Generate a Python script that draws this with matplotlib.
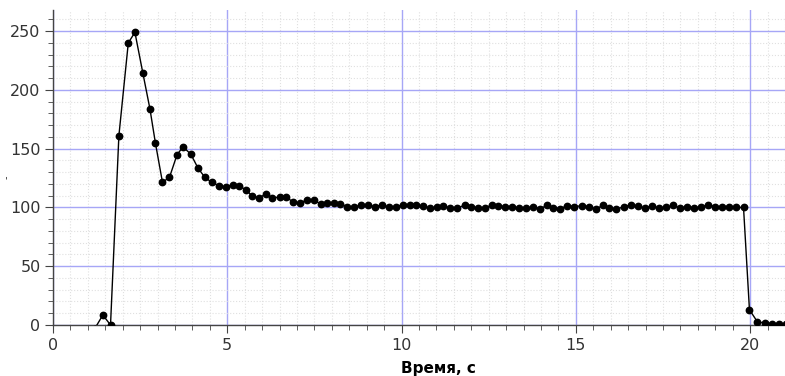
import matplotlib
matplotlib.use("Agg")
import matplotlib.pyplot as plt
from matplotlib.ticker import MultipleLocator

# время отсчёта, с
t = [1.20, 1.43, 1.65, 1.89, 2.16, 2.35, 2.58, 2.78, 2.94, 3.14,
     3.34, 3.56, 3.73, 3.95, 4.16, 4.36, 4.55, 4.76, 4.95, 5.15,
     5.34, 5.53, 5.71, 5.91, 6.10, 6.29, 6.50, 6.69, 6.88, 7.09,
     7.28, 7.48, 7.68, 7.86, 8.05, 8.24, 8.44, 8.63, 8.84, 9.03,
     9.23, 9.45, 9.64, 9.83, 10.04, 10.23, 10.42, 10.61, 10.82, 11.01,
     11.20, 11.40, 11.59, 11.81, 12.00, 12.19, 12.38, 12.59, 12.78, 12.97,
     13.17, 13.38, 13.57, 13.77, 13.98, 14.17, 14.34, 14.55, 14.75, 14.96,
     15.17, 15.37, 15.57, 15.77, 15.96, 16.16, 16.38, 16.59, 16.78, 16.98,
     17.18, 17.38, 17.59, 17.80, 18.00, 18.20, 18.40, 18.60, 18.80, 19.00,
     19.20, 19.40, 19.60, 19.81, 19.98, 20.21, 20.43, 20.63, 20.83, 21.03]

# измеренная величина
val = [-3, 8.5, 0, 161, 240, 249, 214, 184, 154.5, 121.5,
       125.5, 145, 151.5, 145.5, 133.5, 125.5, 121.5, 118.5, 117.5, 119.5,
       118.5, 115, 110, 108, 111.5, 108.2, 108.8, 108.8, 104.8, 103.7,
       106.5, 106, 103.1, 104, 103.4, 103.1, 100.8, 100.3, 102, 102.5,
       100.5, 102.5, 100, 100.5, 102.5, 102.5, 101.7, 101.4, 99.4, 100,
       101.4, 99.4, 99.4, 102, 100.5, 99.7, 99.4, 102.2, 101, 100.8,
       100.8, 99.4, 99.4, 100.3, 99.1, 101.7, 99.4, 99.1, 101.4, 100.8,
       101.4, 100.8, 98.6, 101.7, 99.4, 98.3, 100.8, 102.2, 101.1, 99.4,
       101.4, 99.4, 100, 101.7, 99.4, 100.8, 99.7, 100.3, 102.5, 100.5,
       100.8, 100.8, 100, 100, 13, 2.6, 1.7, 1.2, 1.2, 0.8]

fig = plt.figure(figsize=(7.85, 3.76), dpi=100)
ax = fig.add_axes([53 / 785, 51 / 376, 732 / 785, 315 / 376])

ax.plot(t, val, color="black", lw=1.0, marker="o", ms=4.6, zorder=3)

ax.set_xlim(0, 21.0)
ax.set_ylim(0, 268)
ax.xaxis.set_major_locator(MultipleLocator(5))
ax.xaxis.set_minor_locator(MultipleLocator(0.5))
ax.yaxis.set_major_locator(MultipleLocator(50))
ax.yaxis.set_minor_locator(MultipleLocator(10))

ax.grid(which="minor", color="#e0e0e0", ls=":", lw=0.8)
ax.grid(which="major", color="#a6a6f6", ls="-", lw=1.0)
ax.set_axisbelow(True)

for s in ("top", "right"):
    ax.spines[s].set_visible(False)
for s in ("left", "bottom"):
    ax.spines[s].set_color("#444444")
    ax.spines[s].set_linewidth(1.0)

ax.tick_params(which="major", length=6, color="#444444", labelsize=11.5,
               labelcolor="#333333", pad=3)
ax.tick_params(which="minor", length=3.5, color="#444444")

ax.set_xlabel("Время, с", fontsize=11, fontweight="bold", labelpad=2)
ax.xaxis.set_label_coords(0.527, -0.115)
ax.set_ylabel("-", fontsize=7, color="#333333")
ax.yaxis.set_label_coords(-0.057, 0.47)

fig.savefig("out.png", dpi=100)
